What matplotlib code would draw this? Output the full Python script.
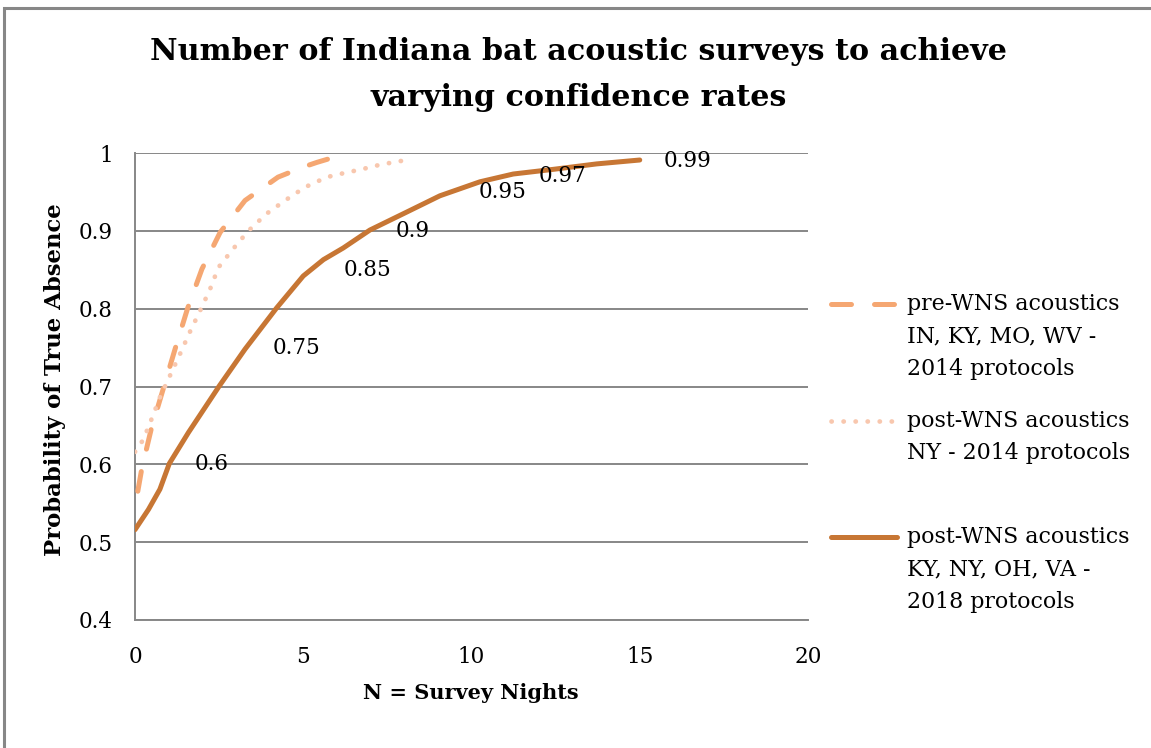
import numpy as np
import matplotlib.pyplot as plt
from matplotlib.lines import Line2D
from matplotlib.patches import Rectangle

# valores
pre_n = [0.0, 0.2, 0.48, 0.86, 1.19, 1.56, 1.99, 2.53, 3.27, 4.25, 5.0, 5.41, 5.72]
pre_p = [0.545, 0.594, 0.645, 0.70, 0.748, 0.80, 0.851, 0.898, 0.939, 0.969, 0.982, 0.988, 0.992]

ny_n = [0.0, 0.25, 0.5, 0.74, 1.04, 1.34, 1.63, 1.93, 2.23, 2.48, 2.92, 3.37, 3.91,
        4.46, 5.05, 5.7, 6.29, 6.74, 7.08, 7.43, 7.78, 8.12]
ny_p = [0.616, 0.632, 0.659, 0.686, 0.714, 0.742, 0.770, 0.797, 0.825, 0.853, 0.877, 0.90, 0.922,
        0.939, 0.956, 0.969, 0.975, 0.979, 0.983, 0.986, 0.989, 0.991]

post_n = [0.0, 0.4, 0.74, 1.02, 1.59, 2.51, 3.27, 4.21, 5.0, 5.6, 6.19, 6.98, 8.07,
          9.06, 10.25, 11.24, 12.43, 13.72, 15.0]
post_p = [0.516, 0.542, 0.568, 0.601, 0.641, 0.701, 0.748, 0.801, 0.842, 0.863, 0.878, 0.901, 0.924,
          0.945, 0.963, 0.973, 0.979, 0.986, 0.991]

etiq_n = [1.08, 3.4, 5.5, 7.05, 9.5, 11.3, 15.0]
etiq_p = [0.6, 0.75, 0.85, 0.9, 0.95, 0.97, 0.99]
etiq_txt = ['0.6', '0.75', '0.85', '0.9', '0.95', '0.97', '0.99']

x_ticks = [0, 5, 10, 15, 20]
y_ticks = [0.4, 0.5, 0.6, 0.7, 0.8, 0.9, 1.0]
y_tick_labels = ['0.4', '0.5', '0.6', '0.7', '0.8', '0.9', '1']

leyenda = [
    'pre-WNS acoustics\nIN, KY, MO, WV -\n2014 protocols',
    'post-WNS acoustics\nNY - 2014 protocols',
    'post-WNS acoustics\nKY, NY, OH, VA -\n2018 protocols',
]

c_pre = '#F5A772'
c_ny = '#F8C7AE'
c_post = '#C77634'
gris = '#878787'

plt.rcParams['font.family'] = 'DejaVu Serif'

W, H = 1151, 748
fig = plt.figure(figsize=(W / 100, H / 100), dpi=100)
ax = fig.add_axes([135 / W, 1 - 620 / H, (808 - 135) / W, (620 - 153) / H])
ax.set_xlim(0, 20)
ax.set_ylim(0.4, 1.0)

# ajustar el desfase de la raya para que termine con un trazo
lw_pre = 3.6
raya, hueco = 4.0, 4.6
pts = ax.transData.transform(np.column_stack([pre_n, pre_p]))
largo = np.sum(np.hypot(*np.diff(pts, axis=0).T)) * 72 / fig.dpi / lw_pre
desfase = (raya - 0.2 - largo) % (raya + hueco)

est_pre = dict(color=c_pre, lw=lw_pre, linestyle=(desfase, (raya, hueco)), dash_capstyle='round')
est_ny = dict(color=c_ny, lw=3.4, linestyle=(0, (0.05, 2.5)), dash_capstyle='round')
est_post = dict(color=c_post, lw=3.6, solid_capstyle='round', solid_joinstyle='round')

ax.plot(pre_n, pre_p, zorder=3, **est_pre)
ax.plot(ny_n, ny_p, zorder=3, **est_ny)
ax.plot(post_n, post_p, zorder=3, **est_post)

for n, p, t in zip(etiq_n, etiq_p, etiq_txt):
    ax.annotate(t, (n, p), xytext=(17, 0), textcoords='offset points',
                va='center', ha='left', fontsize=15.5, color='black', zorder=4)

ax.set_xticks(x_ticks)
ax.set_yticks(y_ticks)
ax.set_yticklabels(y_tick_labels)
ax.tick_params(axis='both', length=0, labelsize=15.5)
ax.tick_params(axis='y', pad=16)
ax.tick_params(axis='x', pad=19)
ax.grid(axis='y', color=gris, lw=1.4)
ax.set_axisbelow(True)
for lado in ['top', 'right']:
    ax.spines[lado].set_visible(False)
for lado in ['left', 'bottom']:
    ax.spines[lado].set_color(gris)
    ax.spines[lado].set_linewidth(1.4)

fig.text(55 / W, 1 - 380 / H, 'Probability of True Absence', rotation=90,
         ha='center', va='center', fontsize=16.4, fontweight='bold')
fig.text(471 / W, 1 - 693 / H, 'N = Survey Nights', ha='center', va='center',
         fontsize=15, fontweight='bold')

fig.text(579 / W, 1 - 52 / H, 'Number of Indiana bat acoustic surveys to achieve',
         ha='center', va='center', fontsize=21.7, fontweight='bold')
fig.text(579 / W, 1 - 97 / H, 'varying confidence rates',
         ha='center', va='center', fontsize=21.7, fontweight='bold')

# leyenda hecha a mano
est_ley = [dict(est_pre, linestyle=(0, (raya, hueco))), est_ny, est_post]
y_inicio = [304, 421, 537]
for txt, est, y0 in zip(leyenda, est_ley, y_inicio):
    fig.add_artist(Line2D([831 / W, 897 / W], [1 - y0 / H, 1 - y0 / H],
                          transform=fig.transFigure, **est))
    for i, linea in enumerate(txt.split('\n')):
        fig.text(907 / W, 1 - (y0 + i * 32.5) / H, linea, ha='left',
                 va='center', fontsize=15.9)

fig.add_artist(Rectangle((4 / W, -0.5), 2.0, 1.5 - 8 / H, transform=fig.transFigure,
                         fill=False, edgecolor=gris, lw=2.2))

fig.savefig('out.png', dpi=100, facecolor='white')
